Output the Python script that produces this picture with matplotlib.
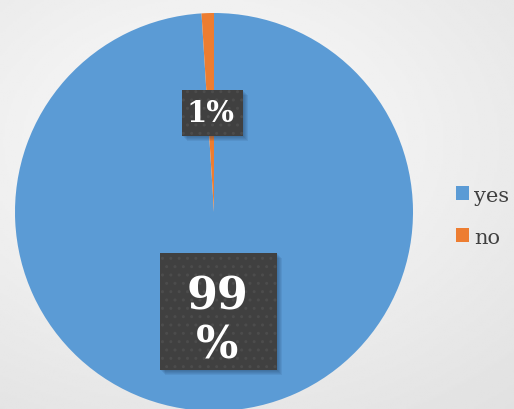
import numpy as np
import matplotlib
matplotlib.use('Agg')
import matplotlib.pyplot as plt
from matplotlib.patches import Rectangle

labels = ['yes', 'no']
values = [99, 1]
colors = ['#5b9bd5', '#ed7d31']
label_sizes = [32, 21]          # label font size per slice (pt)
box_px = [(117, 117), (61, 46)]  # label box size per slice (px)

W, H = 514, 410
fig = plt.figure(figsize=(W / 100, H / 100), dpi=100)

# soft grey background gradient
bg = fig.add_axes([0, 0, 1, 1])
yy, xx = np.mgrid[0:1:200j, 0:1:250j]
d = np.sqrt(((xx - 0.4) / 1.0) ** 2 + ((yy - 0.35) / 0.9) ** 2)
bg.imshow(0.985 - 0.11 * d, cmap='gray', vmin=0, vmax=1,
          extent=[0, 1, 0, 1], aspect='auto', origin='upper')
bg.set_axis_off()

# pie centred at (214, 213) px with radius ~199 px
r = 199
ax = fig.add_axes([(214 - r) / W, (H - 213 - r) / H, 2 * r / W, 2 * r / H])


def fmt(p):
    s = '%d%%' % round(p)
    return s if p < 10 else s[:-1] + '\n%'


wedges, _, pct = ax.pie(values, colors=colors, startangle=90,
                        counterclock=False, autopct=fmt, pctdistance=0.5,
                        wedgeprops=dict(linewidth=0))
ax.set_xlim(-1, 1)
ax.set_ylim(-1, 1)
ax.set_aspect('equal')

for t, fs, (bw, bh) in zip(pct, label_sizes, box_px):
    x, y = t.get_position()
    w, h = bw / r, bh / r
    x0, y0 = x - w / 2 + 1.5 / r, y - h / 2
    # soft drop shadow
    for o in (1, 2, 3, 4, 5):
        ax.add_patch(Rectangle((x0 + o / r, y0 - o / r), w, h, fc='#1d3550',
                               lw=0, alpha=0.09, zorder=3))
    ax.add_patch(Rectangle((x0, y0), w, h, fc='#404040', ec='#4c4c4c',
                           lw=0, hatch='..', zorder=4))
    t.set_fontsize(fs)
    t.set_color('white')
    t.set_fontweight('bold')
    t.set_family('DejaVu Serif')
    t.set_linespacing(1.2)
    t.set_zorder(5)
    if '\n' in t.get_text():
        t.set_y(y - 9 / r)

leg = fig.legend(wedges, labels, loc='upper left',
                 bbox_to_anchor=(437 / W, 1 - 168 / H), frameon=False,
                 prop=dict(family='DejaVu Serif', size=15),
                 handlelength=0.65, handleheight=0.65, handletextpad=0.25,
                 labelspacing=1.1, labelcolor='#404040')

fig.savefig('out.png', dpi=100)
